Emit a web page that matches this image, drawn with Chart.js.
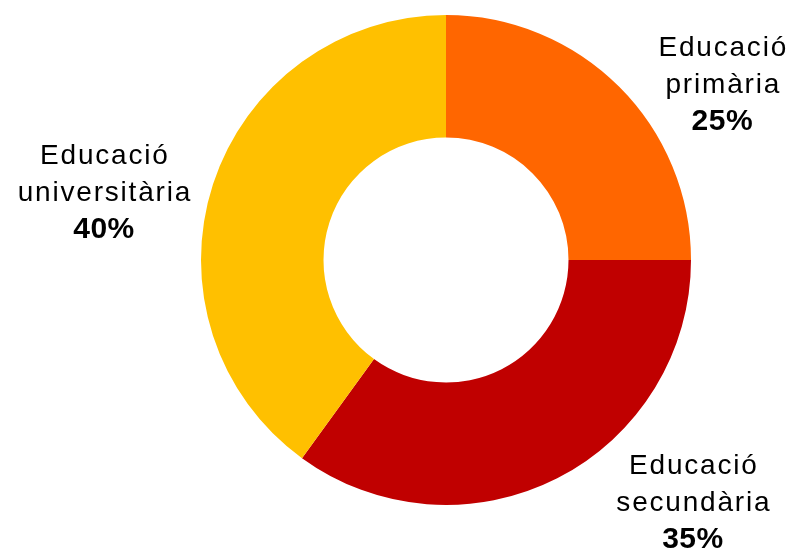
<!DOCTYPE html>
<html>
<head>
<meta charset="utf-8">
<script src="https://cdn.jsdelivr.net/npm/chart.js@4/dist/chart.umd.min.js"></script>
<style>
  html, body { margin: 0; padding: 0; background: #fff; }
  #wrap { width: 795px; height: 552px; }
</style>
</head>
<body>
<div id="wrap"><canvas id="chart" width="795" height="552"></canvas></div>
<script>
// data
const categories = [["Educació", "primària"], ["Educació", "secundària"], ["Educació", "universitària"]];
const shares = [25, 35, 40];
const colors = ["#FF6600", "#C00000", "#FFC000"];

// label anchors, as offsets from the centre in units of the outer radius
const labelOffsets = [[1.128, -0.714], [1.008, 0.992], [-1.396, -0.273]];

const sliceLabels = {
  id: "sliceLabels",
  afterDatasetsDraw(chart) {
    const ctx = chart.ctx;
    const meta = chart.getDatasetMeta(0);
    const total = shares.reduce((a, b) => a + b, 0);
    const spaced = "letterSpacing" in ctx;
    ctx.save();
    ctx.textAlign = "center";
    ctx.textBaseline = "middle";
    ctx.fillStyle = "#000";
    meta.data.forEach((arc, i) => {
      const r = arc.outerRadius;
      const x = arc.x + labelOffsets[i][0] * r;
      const y = arc.y + labelOffsets[i][1] * r;
      const lh = 37;
      ctx.font = "28px 'Liberation Sans', Arial, sans-serif";
      if (spaced) ctx.letterSpacing = "1.8px";
      ctx.fillText(categories[i][0], x + 0.9, y - lh);
      ctx.fillText(categories[i][1], x + 0.9, y);
      ctx.font = "bold 30px 'Liberation Sans', Arial, sans-serif";
      if (spaced) ctx.letterSpacing = "0.5px";
      ctx.fillText(Math.round(shares[i] / total * 100) + "%", x, y + lh);
    });
    ctx.restore();
  }
};

new Chart(document.getElementById("chart"), {
  type: "doughnut",
  data: {
    labels: categories.map((c) => c.join(" ")),
    datasets: [
      {
        data: shares,
        backgroundColor: colors,
        borderWidth: 0,
      },
    ],
  },
  options: {
    responsive: false,
    animation: false,
    cutout: "50%",
    layout: { padding: { left: 97, right: 0, top: 15, bottom: 47 } },
    plugins: {
      legend: { display: false },
      tooltip: { enabled: false },
    },
  },
  plugins: [sliceLabels],
});
</script>
</body>
</html>
